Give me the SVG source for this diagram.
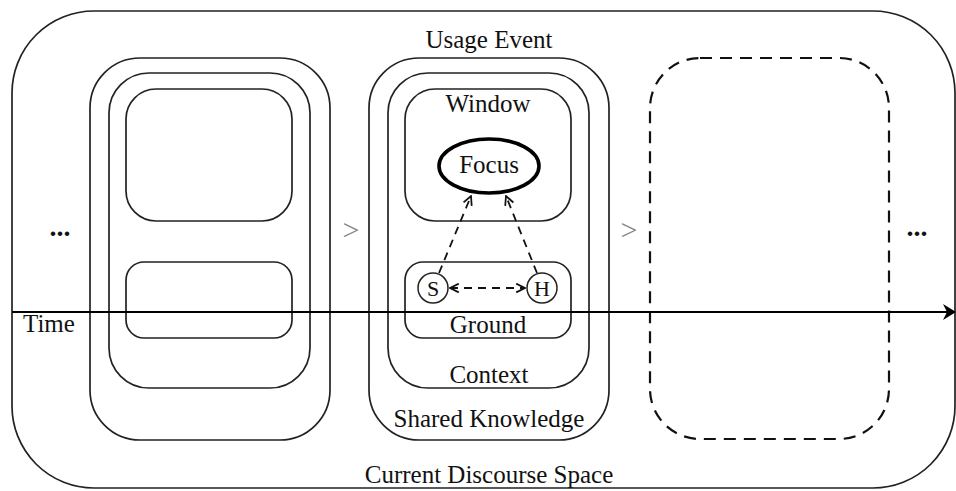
<svg xmlns="http://www.w3.org/2000/svg" width="956" height="491" viewBox="0 0 956 491">
<defs>
<style>
.box{fill:none;stroke:#222;stroke-width:1.7}
.dbox{fill:none;stroke:#111;stroke-width:2.2;stroke-dasharray:12 8}
.t{font-family:'Liberation Serif','DejaVu Serif',serif;font-size:25px;fill:#111;text-anchor:middle}
.sm{font-size:22px}
.gt{font-family:'Liberation Serif','DejaVu Serif',serif;font-size:30px;fill:#888;text-anchor:middle}
.dots{font-family:'Liberation Serif','DejaVu Serif',serif;font-size:28px;font-weight:bold;fill:#111;text-anchor:middle}
.dash{fill:none;stroke:#111;stroke-width:1.8;stroke-dasharray:8 6}
</style>
<marker id="open" viewBox="0 0 10 10" refX="9" refY="5" markerWidth="11" markerHeight="11" markerUnits="userSpaceOnUse" orient="auto-start-reverse">
<path d="M1,1 L9,5 L1,9" fill="none" stroke="#111" stroke-width="1.6"/>
</marker>
</defs>
<rect width="956" height="491" fill="#fff"/>

<g id="discourse-space">
<rect class="box" x="12" y="11" width="943" height="477" rx="82" ry="82"/>
<text class="t" x="489" y="483">Current Discourse Space</text>
</g>

<g id="prev-event">
<rect class="box" x="90" y="58" width="240" height="382" rx="50" ry="50"/>
<rect class="box" x="109" y="73" width="201" height="315" rx="40" ry="40"/>
<rect class="box" x="126" y="89" width="166" height="132" rx="30" ry="30"/>
<rect class="box" x="126" y="262" width="166" height="76" rx="18" ry="18"/>
</g>

<g id="usage-event">
<text class="t" x="489" y="48">Usage Event</text>
<rect class="box" x="369" y="58" width="240" height="382" rx="50" ry="50"/>
<text class="t" x="489" y="427">Shared Knowledge</text>
</g>
<g id="context">
<rect class="box" x="388" y="73" width="201" height="315" rx="40" ry="40"/>
<text class="t" x="489" y="383">Context</text>
</g>
<g id="window">
<rect class="box" x="405" y="89" width="166" height="132" rx="30" ry="30"/>
<text class="t" x="488" y="112">Window</text>
</g>
<g id="focus">
<ellipse cx="489" cy="166" rx="50" ry="27" fill="#fff" stroke="#000" stroke-width="3.6"/>
<text class="t" x="489" y="173">Focus</text>
</g>
<g id="ground">
<rect class="box" x="405" y="262" width="166" height="76" rx="18" ry="18"/>
<text class="t" x="488" y="333">Ground</text>
</g>
<g id="speaker">
<circle cx="433" cy="288" r="15" fill="#fff" stroke="#222" stroke-width="1.5"/>
<text class="t sm" x="433" y="296">S</text>
</g>
<g id="hearer">
<circle cx="542" cy="288" r="15" fill="#fff" stroke="#222" stroke-width="1.5"/>
<text class="t sm" x="542" y="296">H</text>
</g>

<g id="next-event">
<rect class="dbox" x="650" y="58" width="239" height="381" rx="50" ry="50"/>
</g>

<g id="connectors">
<line class="dash" x1="439" y1="273" x2="471" y2="196" marker-end="url(#open)"/>
<line class="dash" x1="537" y1="273" x2="506" y2="196" marker-end="url(#open)"/>
<line class="dash" x1="450" y1="288" x2="525" y2="288" marker-start="url(#open)" marker-end="url(#open)"/>
<line x1="12" y1="312" x2="950" y2="312" stroke="#000" stroke-width="2"/>
<path d="M956,312 L943,304 L947,312 L943,320 Z" fill="#000"/>
</g>

<g id="labels">
<text class="t" x="23" y="332" style="text-anchor:start">Time</text>
<text class="dots" x="60" y="236">...</text>
<text class="dots" x="917" y="236">...</text>
<text class="gt" x="351" y="240">&gt;</text>
<text class="gt" x="629" y="240">&gt;</text>
</g>
</svg>
